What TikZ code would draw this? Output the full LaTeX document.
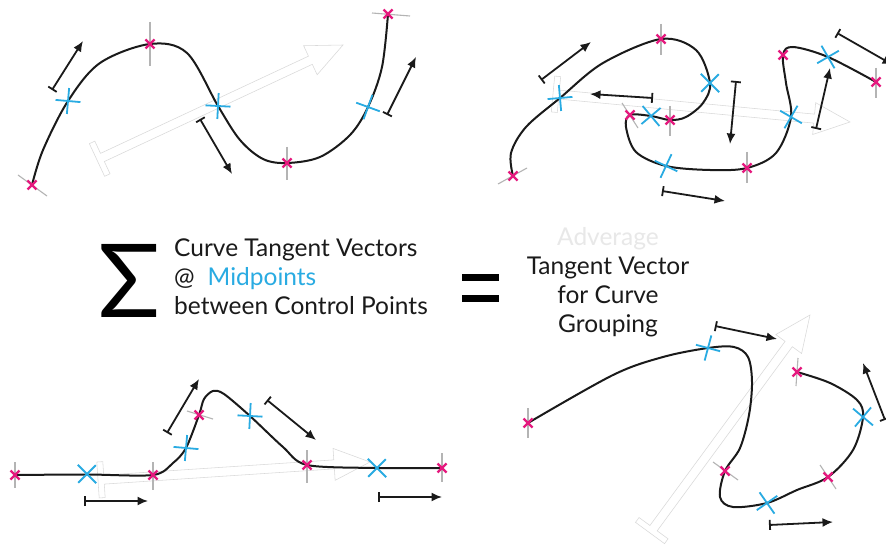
\documentclass[tikz,border=0pt]{standalone}
\usepackage{fontspec}
\setmainfont{Lato}
\usetikzlibrary{arrows.meta,calc}
\definecolor{pinkx}{HTML}{E5197E}
\definecolor{bluex}{HTML}{29ABE2}
\definecolor{ink}{HTML}{1A1A1A}
\definecolor{ghost}{HTML}{D9D9D9}
\definecolor{normalgray}{HTML}{B4B4B4}
\tikzset{
  curve/.style={ink, line width=2pt, line cap=round},
  normalline/.style={normalgray, line width=1.1pt},
  tanvec/.style={ink, line width=1.8pt, {Bar[width=10pt,line width=1.8pt]}-{Latex[length=10.5pt,width=9pt]}},
  hollow/.style={ghost, line width=0.55pt, line join=miter},
  txt/.style={text=ink, inner sep=0pt, font=\fontsize{24.5}{29}\selectfont},
  pics/pinkmark/.style={code={\draw[pinkx, line width=2.2pt] (-4.5,-4.5)--(4.5,4.5) (-4.5,4.5)--(4.5,-4.5);}},
  pics/bluemark/.style={code={\draw[bluex, line width=1.8pt] (-12.5,0)--(12.5,0) (0,-13)--(0,13);}}
}
\newcommand\hollowarrow[3]{%
  \coordinate (#1t) at #2; \coordinate (#1h) at #3;
  \coordinate (#1b) at ($(#1h)!36pt!(#1t)$);
  \coordinate (#1s) at ($(#1t)!6pt!(#1h)$);
  \draw[hollow] ($(#1t)!18pt!90:(#1h)$) -- ($(#1s)!18pt!90:(#1h)$) -- ($(#1s)!4.5pt!90:(#1h)$)
    -- ($(#1b)!4.5pt!-90:(#1t)$) -- ($(#1b)!16pt!-90:(#1t)$) -- (#1h)
    -- ($(#1b)!16pt!90:(#1t)$) -- ($(#1b)!4.5pt!90:(#1t)$) -- ($(#1s)!4.5pt!-90:(#1h)$)
    -- ($(#1s)!18pt!-90:(#1h)$) -- ($(#1t)!18pt!-90:(#1h)$) -- cycle;}
\begin{document}
\begin{tikzpicture}[x=1pt,y=-1pt]
\path[use as bounding box] (0,0) rectangle (886,548);
\clip (0,0) rectangle (886,548);
\fill[white] (0,0) rectangle (886,548);

% ghost average arrows
\hollowarrow{ga}{(97,160)}{(343,45)}
\hollowarrow{gb}{(553,94)}{(850,122)}
\hollowarrow{gc}{(98,480)}{(370,462)}
\hollowarrow{gd}{(650,533)}{(810,315)}

% ---------- top left ----------
\draw[curve] plot[smooth, tension=0.55] coordinates {(32,185) (43,150) (68,101) (100,63) (150,44) (187,53) (218,106) (240,140) (263,159) (287,163) (320,157) (350,135) (368,107) (382,67) (388,14)};
\draw[normalline] (18,175) -- (47,196);
\draw[normalline] (150,22) -- (150,66);
\draw[normalline] (287,147) -- (287,180);
\draw[normalline] (372,13) -- (410,16);
\pic at (32,185) {pinkmark};
\pic at (150,44) {pinkmark};
\pic at (287,163) {pinkmark};
\pic at (388,14) {pinkmark};
\pic[rotate=-5] at (68,101) {bluemark};
\pic[rotate=-3] at (218,106) {bluemark};
\pic[rotate=-20] at (368,107) {bluemark};
\coordinate (a1s) at (52,90); \coordinate (a1e) at (83,41);
\coordinate (a2s) at (200,119); \coordinate (a2e) at (232,174);
\coordinate (a3s) at (387,115); \coordinate (a3e) at (416,57);
\draw[tanvec] (a1s) -- (a1e);
\draw[tanvec] (a2s) -- (a2e);
\draw[tanvec] (a3s) -- (a3e);

% ---------- top right ----------
\draw[curve] plot[smooth, tension=0.55] coordinates {(513,176) (511,153) (526,127) (560,98) (603,63) (661,39) (696,50) (710,83) (703,103) (686,117) (670,120) (651,116) (630,115) (626,127) (636,152) (666,166) (710,170) (747,168) (776,153) (791,117) (786,83) (783,55) (793,47) (828,57) (876,82)};
\draw[normalline] (498,184) -- (527,168);
\draw[normalline] (661,24) -- (661,55);
\draw[normalline] (670,106) -- (670,136);
\draw[normalline] (622,103) -- (638,128);
\draw[normalline] (747,152) -- (747,183);
\draw[normalline] (876,68) -- (876,98);
\pic at (513,176) {pinkmark};
\pic at (661,39) {pinkmark};
\pic at (670,120) {pinkmark};
\pic at (630,115) {pinkmark};
\pic at (747,168) {pinkmark};
\pic at (783,55) {pinkmark};
\pic at (876,82) {pinkmark};
\pic[rotate=5] at (560,98) {bluemark};
\pic[rotate=45] at (710,83) {bluemark};
\pic[rotate=40] at (651,116) {bluemark};
\pic[rotate=-25] at (666,166) {bluemark};
\pic[rotate=-30] at (791,117) {bluemark};
\pic[rotate=30] at (828,57) {bluemark};
\coordinate (b1s) at (541,80); \coordinate (b1e) at (591,42);
\coordinate (b2s) at (653,98); \coordinate (b2e) at (590,94);
\coordinate (b3s) at (736,81); \coordinate (b3e) at (730,144);
\coordinate (b4s) at (662,191); \coordinate (b4e) at (725,201);
\coordinate (b5s) at (816,129); \coordinate (b5e) at (830,68);
\coordinate (b6s) at (837,33); \coordinate (b6e) at (893,65);
\draw[tanvec] (b1s) -- (b1e);
\draw[tanvec] (b2s) -- (b2e);
\draw[tanvec] (b3s) -- (b3e);
\draw[tanvec] (b4s) -- (b4e);
\draw[tanvec] (b5s) -- (b5e);
\draw[tanvec] (b6s) -- (b6e);

% ---------- bottom left ----------
\draw[curve] plot[smooth, tension=0.5] coordinates {(15,475) (87,474.5) (153,475) (173,463) (186,448) (199,415) (204,399) (213,391) (224,394) (250,416) (283,447) (307,465) (377,468) (442,468)};
\draw[normalline] (15,462) -- (15,488);
\draw[normalline] (153,462) -- (153,490);
\draw[normalline] (187,411) -- (213,419);
\draw[normalline] (307,450) -- (307,483);
\draw[normalline] (442,453) -- (442,482);
\pic at (15,475) {pinkmark};
\pic at (153,475) {pinkmark};
\pic at (199,415) {pinkmark};
\pic at (307,465) {pinkmark};
\pic at (442,468) {pinkmark};
\pic[rotate=45] at (87,474) {bluemark};
\pic[rotate=-5] at (186,448) {bluemark};
\pic[rotate=-3] at (250,416) {bluemark};
\pic[rotate=45] at (377,468) {bluemark};
\coordinate (c1s) at (84,501); \coordinate (c1e) at (148,501);
\coordinate (c2s) at (167,433); \coordinate (c2e) at (199,379);
\coordinate (c3s) at (267,400); \coordinate (c3e) at (316,440);
\coordinate (c4s) at (378,497); \coordinate (c4e) at (442,497);
\draw[tanvec] (c1s) -- (c1e);
\draw[tanvec] (c2s) -- (c2e);
\draw[tanvec] (c3s) -- (c3e);
\draw[tanvec] (c4s) -- (c4e);

% ---------- bottom right ----------
\draw[curve] plot[smooth, tension=0.55] coordinates {(528,423) (613,375) (663,357) (708,348) (734,347) (748,357) (752,382) (749,415) (740,448) (725,471) (720,497) (733,507) (767,503) (797,490) (828,477) (853,450) (863,417) (857,400) (830,383) (797,372)};
\draw[normalline] (528,408) -- (528,438);
\draw[normalline] (713,462) -- (738,480);
\draw[normalline] (820,465) -- (836,489);
\draw[normalline] (798,358) -- (796,386);
\pic at (528,423) {pinkmark};
\pic at (725,471) {pinkmark};
\pic at (828,477) {pinkmark};
\pic at (797,372) {pinkmark};
\pic[rotate=-15] at (708,348) {bluemark};
\pic[rotate=35] at (767,503) {bluemark};
\pic[rotate=50] at (863,417) {bluemark};
\coordinate (d1s) at (715,326); \coordinate (d1e) at (777,339);
\coordinate (d2s) at (885,420); \coordinate (d2e) at (863,363);
\coordinate (d3s) at (769,525); \coordinate (d3e) at (833,522);
\draw[tanvec] (d1s) -- (d1e);
\draw[tanvec] (d2s) -- (d2e);
\draw[tanvec] (d3s) -- (d3e);

% ---------- formula ----------
\node[anchor=base west, inner sep=0pt, text=black, font=\fontsize{102}{102}\selectfont] (sigma) at (98,317) {Σ};
\node[txt, anchor=base west, align=left] (lefttext) at (174,314)
  {Curve Tangent Vectors\\@\hspace{13pt}\textcolor{bluex}{Midpoints}\\between Control Points};
\fill[black] (462,274) rectangle (499,281);
\fill[black] (462,295) rectangle (499,302);
\node[txt, anchor=base, align=center] (righttext) at (608,332)
  {\textcolor{black!9}{Adverage}\\Tangent Vector\\for Curve\\Grouping};
\end{tikzpicture}
\end{document}
